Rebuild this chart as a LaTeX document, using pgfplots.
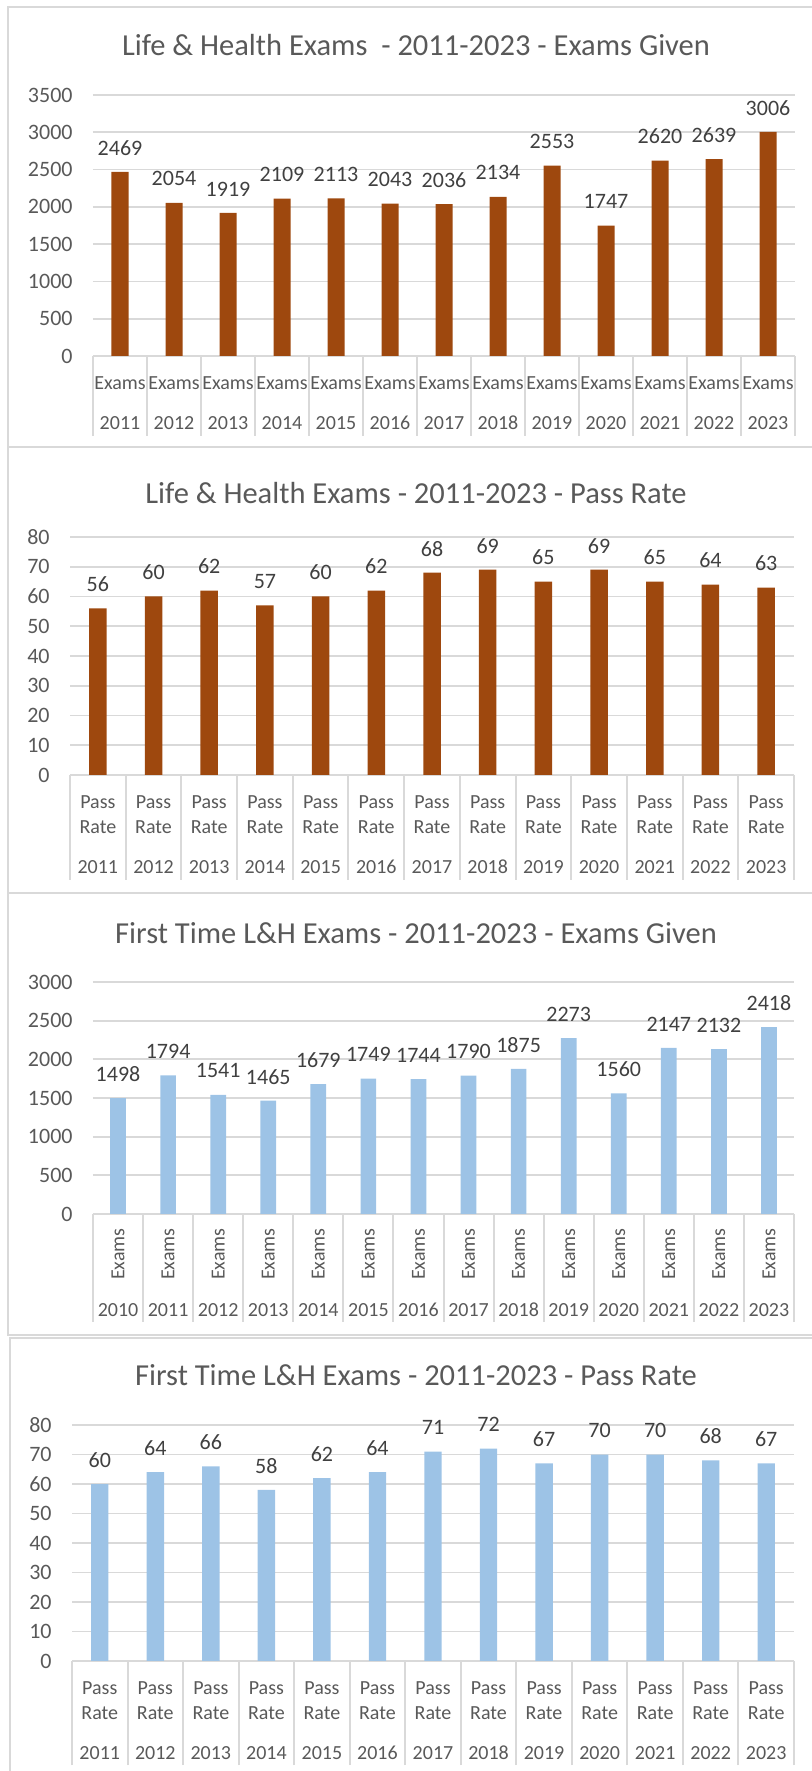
\documentclass[border=0pt]{standalone}
\usepackage{fontspec}
\setmainfont{Carlito}
\usepackage{graphicx}
\usepackage{pgfplots}
\pgfplotsset{compat=1.18}
\definecolor{barbrown}{HTML}{9E480E}
\definecolor{barblue}{HTML}{9DC3E6}
\definecolor{gridgray}{HTML}{D9D9D9}
\definecolor{txt}{HTML}{595959}
\definecolor{lbl}{HTML}{404040}
\newcommand{\tfont}{\fontsize{11}{12.5}\selectfont}
\newcommand{\cfont}{\fontsize{10}{12.5}\selectfont}
\newcommand{\hfont}{\fontsize{15.25}{18}\selectfont}
\pgfplotsset{
 panel/.style={
  scale only axis, anchor=south west, clip=false,
  ybar, xmin=-0.5, ymin=0,
  axis x line*=bottom, axis y line*=left,
  x axis line style={draw=gridgray, line width=1pt, -},
  y axis line style={draw=none},
  ymajorgrids, grid style={draw=gridgray, line width=0.9pt},
  xtick=data,
  tick align=outside,
  major tick length=0pt,
  minor tick style={draw=gridgray, line width=1pt},
  xticklabel style={font=\cfont, text=txt, anchor=north, inner sep=0pt, align=center},
  yticklabel style={font=\tfont, text=txt, anchor=east, inner sep=0pt, xshift=-10pt},
  /pgf/number format/.cd, 1000 sep={}, assume math mode=true, /pgfplots/.cd,
  scaled y ticks=false,
  nodes near coords,
  nodes near coords style={font=\tfont, text=lbl, anchor=center, yshift=12pt},
 }
}
\begin{document}
\begin{tikzpicture}
\useasboundingbox (0,0) rectangle (405.5pt,885.5pt);
% panel frames
\draw[gridgray, line width=1pt] (4pt,662pt) rectangle (412pt,882pt);
\draw[gridgray, line width=1pt] (4pt,439pt) rectangle (412pt,662pt);
\draw[gridgray, line width=1pt] (4pt,218pt) rectangle (412pt,439pt);
\draw[gridgray, line width=1pt] (5pt,-5pt) rectangle (412pt,216.5pt);
% titles
\node[font=\hfont, text=txt] at (208pt,863pt) {Life \& Health Exams\ \ - 2011-2023 - Exams Given};
\node[font=\hfont, text=txt] at (208pt,639pt) {Life \& Health Exams - 2011-2023 - Pass Rate};
\node[font=\hfont, text=txt] at (208pt,419pt) {First Time L\&H Exams - 2011-2023 - Exams Given};
\node[font=\hfont, text=txt] at (208pt,198pt) {First Time L\&H Exams - 2011-2023 - Pass Rate};

% Panel 1
\begin{axis}[panel, at={(46.5pt,707.5pt)}, width=351pt, height=130.5pt,
  xmax=12.5, ymax=3500, ytick={0,500,...,3500}, bar width=8.5pt,
  minor xtick={-0.5,0.5,...,12.5}, minor tick length=40pt,
  xticklabel style={yshift=-10pt},
  xticklabels={{Exams\\[7.5pt]2011},{Exams\\[7.5pt]2012},{Exams\\[7.5pt]2013},{Exams\\[7.5pt]2014},{Exams\\[7.5pt]2015},{Exams\\[7.5pt]2016},{Exams\\[7.5pt]2017},{Exams\\[7.5pt]2018},{Exams\\[7.5pt]2019},{Exams\\[7.5pt]2020},{Exams\\[7.5pt]2021},{Exams\\[7.5pt]2022},{Exams\\[7.5pt]2023}}]
\addplot[fill=barbrown, draw=none] coordinates {(0,2469) (1,2054) (2,1919) (3,2109) (4,2113) (5,2043) (6,2036) (7,2134) (8,2553) (9,1747) (10,2620) (11,2639) (12,3006)};
\end{axis}

% Panel 2
\begin{axis}[panel, at={(35pt,498pt)}, width=362pt, height=119pt,
  xmax=12.5, ymax=80, ytick={0,10,...,80}, bar width=8.75pt,
  minor xtick={-0.5,0.5,...,12.5}, minor tick length=52.5pt,
  xticklabel style={yshift=-10pt},
  xticklabels={{Pass\\Rate\\[7.5pt]2011},{Pass\\Rate\\[7.5pt]2012},{Pass\\Rate\\[7.5pt]2013},{Pass\\Rate\\[7.5pt]2014},{Pass\\Rate\\[7.5pt]2015},{Pass\\Rate\\[7.5pt]2016},{Pass\\Rate\\[7.5pt]2017},{Pass\\Rate\\[7.5pt]2018},{Pass\\Rate\\[7.5pt]2019},{Pass\\Rate\\[7.5pt]2020},{Pass\\Rate\\[7.5pt]2021},{Pass\\Rate\\[7.5pt]2022},{Pass\\Rate\\[7.5pt]2023}}]
\addplot[fill=barbrown, draw=none] coordinates {(0,56) (1,60) (2,62) (3,57) (4,60) (5,62) (6,68) (7,69) (8,65) (9,69) (10,65) (11,64) (12,63)};
\end{axis}

% Panel 3
\begin{axis}[panel, at={(46.5pt,278.5pt)}, width=350.5pt, height=116pt,
  xmax=13.5, ymax=3000, ytick={0,500,...,3000}, bar width=7.85pt,
  minor xtick={-0.5,0.5,...,13.5}, minor tick length=54pt,
  xticklabel style={yshift=-7pt},
  xticklabels={{\rotatebox{90}{Exams}\\[6pt]2010},{\rotatebox{90}{Exams}\\[6pt]2011},{\rotatebox{90}{Exams}\\[6pt]2012},{\rotatebox{90}{Exams}\\[6pt]2013},{\rotatebox{90}{Exams}\\[6pt]2014},{\rotatebox{90}{Exams}\\[6pt]2015},{\rotatebox{90}{Exams}\\[6pt]2016},{\rotatebox{90}{Exams}\\[6pt]2017},{\rotatebox{90}{Exams}\\[6pt]2018},{\rotatebox{90}{Exams}\\[6pt]2019},{\rotatebox{90}{Exams}\\[6pt]2020},{\rotatebox{90}{Exams}\\[6pt]2021},{\rotatebox{90}{Exams}\\[6pt]2022},{\rotatebox{90}{Exams}\\[6pt]2023}}]
\addplot[fill=barblue, draw=none] coordinates {(0,1498) (1,1794) (2,1541) (3,1465) (4,1679) (5,1749) (6,1744) (7,1790) (8,1875) (9,2273) (10,1560) (11,2147) (12,2132) (13,2418)};
\end{axis}

% Panel 4
\begin{axis}[panel, at={(36pt,55pt)}, width=361pt, height=118pt,
  xmax=12.5, ymax=80, ytick={0,10,...,80}, bar width=8.7pt,
  minor xtick={-0.5,0.5,...,12.5}, minor tick length=52pt,
  xticklabel style={yshift=-10pt},
  xticklabels={{Pass\\Rate\\[7.5pt]2011},{Pass\\Rate\\[7.5pt]2012},{Pass\\Rate\\[7.5pt]2013},{Pass\\Rate\\[7.5pt]2014},{Pass\\Rate\\[7.5pt]2015},{Pass\\Rate\\[7.5pt]2016},{Pass\\Rate\\[7.5pt]2017},{Pass\\Rate\\[7.5pt]2018},{Pass\\Rate\\[7.5pt]2019},{Pass\\Rate\\[7.5pt]2020},{Pass\\Rate\\[7.5pt]2021},{Pass\\Rate\\[7.5pt]2022},{Pass\\Rate\\[7.5pt]2023}}]
\addplot[fill=barblue, draw=none] coordinates {(0,60) (1,64) (2,66) (3,58) (4,62) (5,64) (6,71) (7,72) (8,67) (9,70) (10,70) (11,68) (12,67)};
\end{axis}
\end{tikzpicture}
\end{document}
